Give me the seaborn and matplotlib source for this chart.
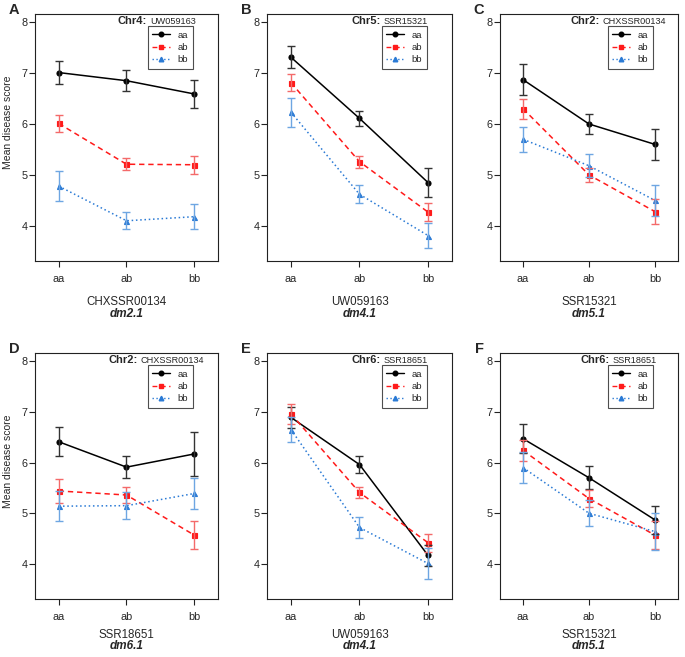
"""Six-panel interaction plot of mean disease score by genotype at two QTL markers."""

import matplotlib

matplotlib.use("Agg")
import matplotlib.pyplot as plt  # noqa: E402
import numpy as np  # noqa: E402
import pandas as pd  # noqa: E402
import seaborn as sns  # noqa: E402
from matplotlib.lines import Line2D  # noqa: E402
from matplotlib.offsetbox import AnnotationBbox, HPacker, TextArea  # noqa: E402

GENOTYPES = ["aa", "ab", "bb"]
SERIES = ["aa", "ab", "bb"]

PANELS = ["A", "B", "C", "D", "E", "F"]
X_MARKERS = ["CHXSSR00134", "UW059163", "SSR15321", "SSR18651", "UW059163", "SSR15321"]
QTL_NAMES = ["dm2.1", "dm4.1", "dm5.1", "dm6.1", "dm4.1", "dm5.1"]
CHR_LABELS = ["Chr4:", "Chr5:", "Chr2:", "Chr2:", "Chr6:", "Chr6:"]
HUE_MARKERS = ["UW059163", "SSR15321", "CHXSSR00134", "CHXSSR00134", "SSR18651", "SSR18651"]

# rows = legend series (aa, ab, bb), columns = x genotype (aa, ab, bb)
MEAN_A = [[7.01, 6.85, 6.59], [6.01, 5.21, 5.20], [4.78, 4.10, 4.18]]
SE_A = [[0.22, 0.21, 0.27], [0.17, 0.12, 0.18], [0.29, 0.17, 0.25]]
MEAN_B = [[7.31, 6.11, 4.85], [6.81, 5.26, 4.27], [6.23, 4.62, 3.81]]
SE_B = [[0.22, 0.15, 0.28], [0.17, 0.12, 0.17], [0.28, 0.18, 0.24]]
MEAN_C = [[6.87, 6.00, 5.60], [6.30, 5.00, 4.28], [5.70, 5.18, 4.50]]
SE_C = [[0.31, 0.19, 0.31], [0.20, 0.14, 0.24], [0.25, 0.23, 0.31]]
MEAN_D = [[6.41, 5.91, 6.17], [5.44, 5.36, 4.57], [5.14, 5.15, 5.39]]
SE_D = [[0.29, 0.21, 0.43], [0.24, 0.15, 0.28], [0.30, 0.26, 0.31]]
MEAN_E = [[6.89, 5.96, 4.17], [6.96, 5.41, 4.42], [6.65, 4.72, 4.01]]
SE_E = [[0.20, 0.17, 0.20], [0.20, 0.11, 0.18], [0.25, 0.20, 0.31]]
MEAN_F = [[6.47, 5.70, 4.87], [6.24, 5.29, 4.57], [5.90, 5.00, 4.64]]
SE_F = [[0.29, 0.23, 0.27], [0.20, 0.17, 0.28], [0.31, 0.26, 0.36]]

MEANS = [MEAN_A, MEAN_B, MEAN_C, MEAN_D, MEAN_E, MEAN_F]
SES = [SE_A, SE_B, SE_C, SE_D, SE_E, SE_F]

COLORS = ["#000000", "#FF1A1A", "#2A7AD5"]
ERR_COLORS = ["#333333", "#F46A6A", "#6EA6E2"]
MARKERS = ["o", "s", "^"]
LINESTYLES = ["-", (0, (3.5, 2.5)), (0, (1, 1.8))]

# layout in pixels of the 685x657 figure
W, H = 685, 657
COL_LEFT = [35, 267, 500]
COL_WIDTH = [183, 185, 178]
ROW_TOP = [14, 353]
ROW_HEIGHT = [247, 246]
XLAB_BASE = [(44, 56), (39, 50)]  # baselines of marker name / QTL name below the box

sns.set_style("ticks")
plt.rcParams["font.family"] = ["Liberation Sans", "DejaVu Sans"]
PX = 72 / 100  # pixels -> points

fig = plt.figure(figsize=(W / 100, H / 100), dpi=100)

for k in range(6):
    r, c = divmod(k, 3)
    left, width = COL_LEFT[c], COL_WIDTH[c]
    top, height = ROW_TOP[r], ROW_HEIGHT[r]
    ax = fig.add_axes([left / W, 1 - (top + height) / H, width / W, height / H])

    means = np.asarray(MEANS[k])
    ses = np.asarray(SES[k])
    df = pd.DataFrame({
        "genotype": GENOTYPES * len(SERIES),
        "series": np.repeat(SERIES, len(GENOTYPES)),
        "score": means.ravel(),
    })
    sns.pointplot(data=df, x="genotype", y="score", hue="series",
                  order=GENOTYPES, hue_order=SERIES, palette=COLORS,
                  markers=MARKERS, linestyles=LINESTYLES, errorbar=None,
                  legend=False, ax=ax, markersize=3.6, linewidth=1.1)
    xpos = np.arange(len(GENOTYPES))
    for i in range(len(SERIES)):
        ax.errorbar(xpos, means[i], yerr=ses[i], fmt="none", ecolor=ERR_COLORS[i],
                    elinewidth=1.0, capsize=2.6, capthick=1.0, zorder=3)

    ax.set_xlim(-0.35, 2.35)
    ax.set_ylim(3.31, 8.16)
    ax.set_yticks([4, 5, 6, 7, 8])
    ax.set_xlabel("")
    ax.set_ylabel("")
    for sp in ax.spines.values():
        sp.set_linewidth(0.8)
        sp.set_color("#222222")
    ax.tick_params(axis="x", length=4, width=0.8, pad=5, labelsize=7.8, color="#222222")
    ax.tick_params(axis="y", length=4, width=0.8, pad=1.5, labelsize=7.8, color="#222222")

    if c == 0:
        ax.set_ylabel("Mean disease score", fontsize=7.5)
        ax.yaxis.set_label_coords(-22 / width, 0.56)

    ax.annotate(X_MARKERS[k], xy=(0.5, 0), xycoords="axes fraction",
                xytext=(0, -XLAB_BASE[r][0] * PX), textcoords="offset points",
                ha="center", va="baseline", fontsize=8.3)
    ax.annotate(QTL_NAMES[k], xy=(0.5, 0), xycoords="axes fraction",
                xytext=(0, -XLAB_BASE[r][1] * PX), textcoords="offset points",
                ha="center", va="baseline", fontsize=8.5, fontweight="bold", fontstyle="italic")

    title = HPacker(children=[TextArea(CHR_LABELS[k], textprops=dict(fontsize=8, fontweight="bold")),
                              TextArea(HUE_MARKERS[k], textprops=dict(fontsize=6.6))],
                    align="baseline", pad=0, sep=2)
    ax.add_artist(AnnotationBbox(title, (0.665, 0.972), xycoords="axes fraction",
                                 frameon=False, box_alignment=(0.5, 0.5)))

    handles = [Line2D([], [], color=COLORS[i], marker=MARKERS[i], linestyle=LINESTYLES[i],
                      linewidth=1.0, markersize=3.3) for i in range(len(SERIES))]
    leg = ax.legend(handles=handles, labels=SERIES, loc="upper right",
                    bbox_to_anchor=(1 - 25 / width, 1 - 12 / height), borderaxespad=0,
                    fontsize=6.8, frameon=True, fancybox=False, edgecolor="#222222",
                    handlelength=1.9, handletextpad=0.8, borderpad=0.5, labelspacing=0.35)
    leg.get_frame().set_linewidth(0.8)

    fig.text((left - 21) / W, 1 - (top - 4) / H, PANELS[k], fontsize=10.5,
             fontweight="bold", ha="center", va="center")

fig.savefig("out.png", dpi=100)
